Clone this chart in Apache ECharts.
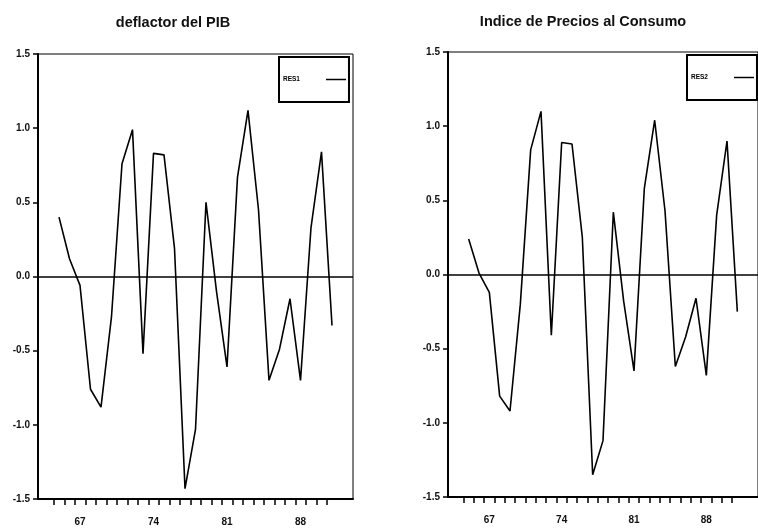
<!DOCTYPE html>
<html>
<head>
<meta charset="utf-8">
<script src="https://cdn.jsdelivr.net/npm/echarts@6/dist/echarts.min.js"></script>
<style>
html,body{margin:0;padding:0;background:#fff;}
#chart{width:758px;height:529px;}
</style>
</head>
<body>
<div id="chart"></div>
<script>
// Years (two-digit, 1965-1991)
const years = [65,66,67,68,69,70,71,72,73,74,75,76,77,78,79,80,81,82,83,84,85,86,87,88,89,90,91];
// Residuals: deflactor del PIB
const res1 = [0.40,0.12,-0.06,-0.76,-0.88,-0.27,0.76,0.99,-0.52,0.83,0.82,0.19,-1.43,-1.03,0.50,-0.10,-0.61,0.67,1.12,0.45,-0.70,-0.49,-0.15,-0.70,0.33,0.84,-0.33];
// Residuals: Indice de Precios al Consumo
const res2 = [0.24,0.01,-0.12,-0.82,-0.92,-0.20,0.84,1.10,-0.41,0.89,0.88,0.25,-1.35,-1.12,0.42,-0.18,-0.65,0.58,1.04,0.43,-0.62,-0.42,-0.16,-0.68,0.40,0.90,-0.25];
const xTickLabels = [67,74,81,88];
const titles = ['deflactor del PIB','Indice de Precios al Consumo'];
const seriesNames = ['RES1','RES2'];

const FONT = 'Liberation Sans, Arial, Helvetica, sans-serif';
const tickPositions = years.map(y => y - 0.5);

function pairs(vals){ return years.map((y,i)=>[y, vals[i]]); }

const grids = [
  {left:38, top:54, width:315, height:445},
  {left:448, top:52, width:315, height:445}
];

function legendFor(name, left, top){
  return {data:[name], left:left, top:top, orient:'vertical', align:'right',
     icon:'rect', itemWidth:20, itemHeight:1.5, padding:[19,3,19,4],
     borderColor:'#000', borderWidth:2, backgroundColor:'#fff',
     itemStyle:{color:'#000'},
     textStyle:{fontFamily:FONT, fontSize:6.5, fontWeight:'bold', color:'#000', padding:[3,21,0,0]}};
}

const option = {
  animation:false,
  backgroundColor:'#fff',
  title: [
    {text:titles[0], left:168, top:10, textAlign:'center',
     textStyle:{fontFamily:FONT, fontSize:14.5, fontWeight:'bold', color:'#111'}},
    {text:titles[1], left:578, top:9, textAlign:'center',
     textStyle:{fontFamily:FONT, fontSize:14.5, fontWeight:'bold', color:'#111'}}
  ],
  legend: [legendFor(seriesNames[0], 279, 57), legendFor(seriesNames[1], 687, 55)],
  grid: grids.map(g => Object.assign({show:true, borderColor:'#000', borderWidth:1, backgroundColor:'#fff'}, g)),
  xAxis: [0,1].map(i => ({
    type:'value', gridIndex:i, min:63, max:93,
    axisLine:{show:true, onZero:false, lineStyle:{color:'#000', width:2}},
    axisTick:{show:true, length:6, customValues:tickPositions, lineStyle:{color:'#000', width:1.5}},
    axisLabel:{show:true, customValues:xTickLabels, margin:18, formatter:v=>String(v),
      fontFamily:FONT, fontSize:10, fontWeight:'bold', color:'#111'},
    splitLine:{show:false}
  })),
  yAxis: [0,1].map(i => ({
    type:'value', gridIndex:i, min:-1.5, max:1.5, interval:0.5,
    axisLine:{show:true, onZero:false, lineStyle:{color:'#000', width:2}},
    axisTick:{show:true, length:5, lineStyle:{color:'#000', width:1.5}},
    axisLabel:{show:true, margin:8, formatter:v=>v.toFixed(1),
      fontFamily:FONT, fontSize:10, fontWeight:'bold', color:'#111'},
    splitLine:{show:false}
  })),
  series: [res1, res2].map((vals,i) => ({
    type:'line', name:seriesNames[i], xAxisIndex:i, yAxisIndex:i,
    data:pairs(vals), symbol:'none', showSymbol:false,
    lineStyle:{color:'#000', width:1.6}, itemStyle:{color:'#000'},
    markLine:{silent:true, symbol:['none','none'], label:{show:false},
      lineStyle:{color:'#000', width:1.5, type:'solid'},
      data:[{yAxis:0}]}
  }))
};

const chart = echarts.init(document.getElementById('chart'), null, {renderer:'canvas'});
chart.setOption(option);
</script>
</body>
</html>
